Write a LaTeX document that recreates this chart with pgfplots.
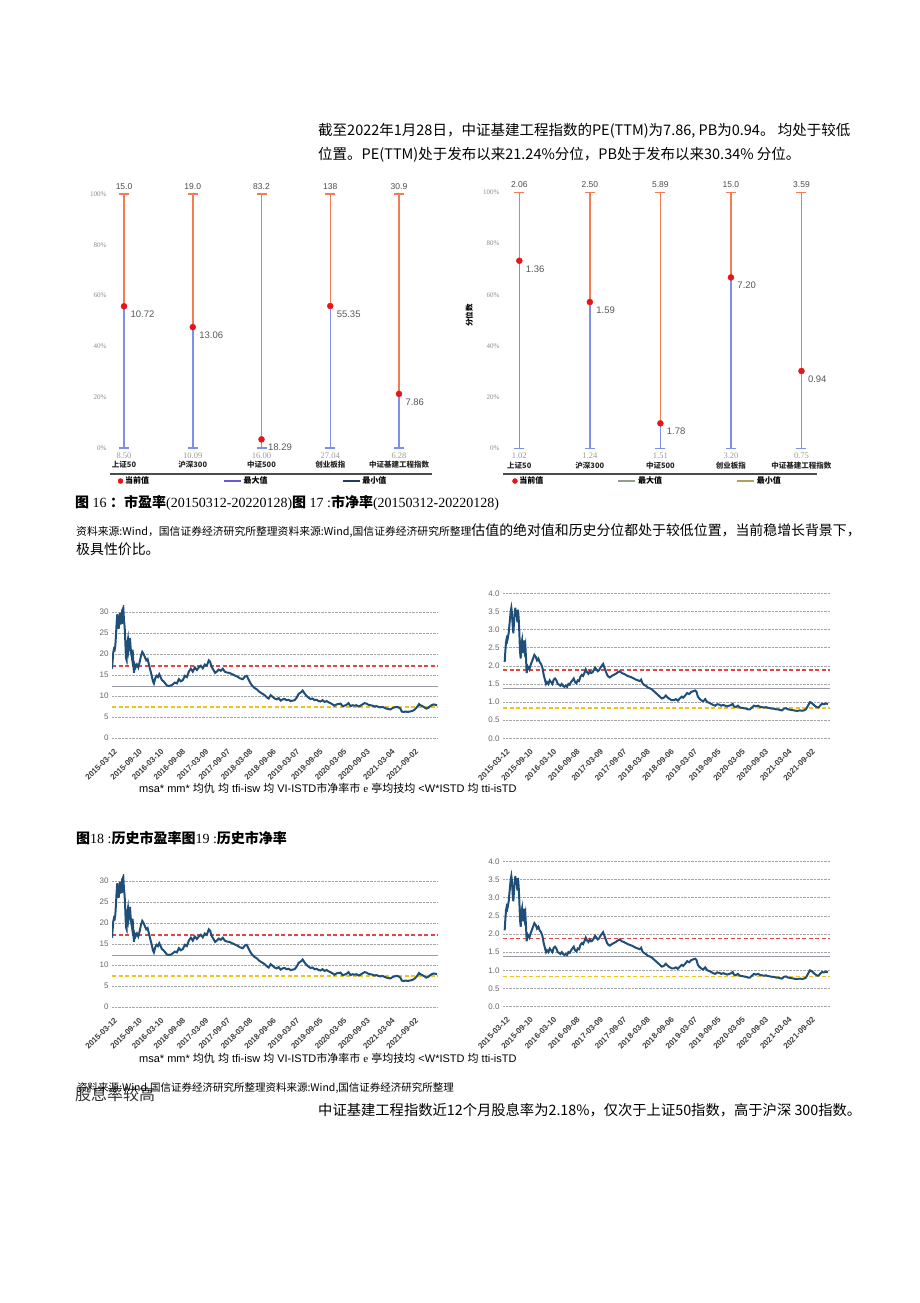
\documentclass[border=0pt]{standalone}
\usepackage{pgfplots}
\pgfplotsset{compat=1.18}
\usepackage{pgfplotstable}
\usetikzlibrary{plotmarks}
\usepackage{fontspec}
\setmainfont{Liberation Sans}
\newfontfamily\cjk{Noto Sans CJK SC}
\newfontfamily\lserif{Liberation Serif}
\newfontfamily\lsans{Liberation Sans}
\definecolor{barblue}{HTML}{7F8FE6}
\definecolor{barorange}{HTML}{F27D52}
\definecolor{dotred}{HTML}{E8141C}
\definecolor{navy}{HTML}{1F4E79}
\definecolor{refred}{HTML}{E04848}
\definecolor{refyel}{HTML}{F2C318}
\definecolor{refgray}{HTML}{9A9AA6}

\pgfplotstableread{
x pct hi lo cur max min
0 55.8 100 0 10.72 15.0 8.50
1 47.6 100 0 13.06 19.0 10.09
2 3.4 100 0 18.29 83.2 16.00
3 55.9 100 0 55.35 138 27.04
4 21.3 100 0 7.86 30.9 6.28
}\petab

\pgfplotstableread{
x pct hi lo cur max min
0 73.3 100 0 1.36 2.06 1.02
1 57.2 100 0 1.59 2.50 1.24
2 9.9 100 0 1.78 5.89 1.51
3 66.8 100 0 7.20 15.0 3.20
4 30.3 100 0 0.94 3.59 0.75
}\pbtab

\pgfplotstableread{
x y
95 16.5
97 18.5
99 20.5
101 21.2
103 21.0
105 22.0
107 24.5
109 27.5
111 29.5
113 28.0
115 26.0
117 27.5
119 29.8
121 27.0
123 28.5
125 27.2
127 30.5
129 31.0
131 28.0
133 26.5
135 23.0
137 19.0
139 18.5
141 22.5
143 23.5
145 21.0
147 22.0
149 23.8
151 21.5
153 20.0
155 19.0
157 21.0
159 18.0
161 15.5
163 17.5
166 16.8
170 17.5
174 16.8
178 18.0
182 19.5
186 20.5
190 20.0
194 19.2
198 18.5
202 18.8
206 17.5
210 16.2
214 15.0
218 13.5
221 13.0
225 14.2
229 14.8
233 14.5
237 15.2
241 14.5
245 13.8
250 13.5
255 13.0
260 12.5
266 12.4
272 12.5
278 12.8
284 13.2
290 13.0
296 14.0
302 13.5
308 13.8
314 14.8
320 14.5
326 15.8
332 16.5
338 15.8
344 16.8
350 16.2
356 16.8
362 17.2
368 16.6
374 17.5
380 17.2
386 18.5
390 18.2
394 17.0
400 16.2
405 15.5
410 15.8
416 16.3
422 16.0
428 16.5
434 15.8
440 15.6
448 15.5
456 15.2
464 14.9
472 14.6
480 14.2
488 14.0
494 14.6
500 14.8
505 14.0
510 13.2
516 12.5
522 12.0
530 11.6
538 11.0
546 10.6
554 10.2
560 9.7
566 9.4
572 10.2
578 9.8
584 9.4
590 9.2
596 9.5
602 8.9
608 9.2
614 9.3
620 9.0
626 9.1
632 8.8
638 8.9
644 9.0
650 9.6
656 10.5
662 10.8
668 11.3
674 10.6
680 10.0
686 9.6
692 9.3
698 9.4
704 9.0
710 9.1
716 8.8
722 8.7
728 9.0
734 8.6
740 8.8
746 8.5
752 8.3
758 8.0
764 7.7
770 8.0
776 8.1
782 8.2
788 7.6
794 7.7
800 7.9
806 8.3
812 7.6
818 7.8
824 7.7
830 7.8
836 7.5
842 7.7
848 8.0
854 8.3
860 8.2
866 7.9
872 7.8
878 7.7
884 7.5
890 7.6
896 7.4
902 7.3
908 7.4
914 7.2
920 7.0
926 6.9
932 6.8
938 7.1
944 7.3
950 7.4
956 7.3
962 7.0
966 6.3
972 6.2
978 6.3
984 6.2
990 6.3
996 6.4
1002 6.6
1008 7.0
1014 7.6
1018 8.1
1022 7.8
1028 7.6
1034 7.3
1040 7.0
1046 7.2
1050 7.5
1056 7.8
1062 8.0
1068 7.9
1072 7.8
}\pedata

\pgfplotstableread{
x y
135 2.1
137 2.4
139 2.65
141 2.75
143 2.7
145 2.8
147 2.9
149 3.1
151 3.3
153 3.5
155 3.6
157 3.45
159 3.1
161 2.9
163 3.2
165 3.4
167 3.6
169 3.35
171 3.5
173 3.2
175 3.55
177 3.3
179 2.9
181 2.4
183 2.2
185 2.6
187 2.7
189 2.35
191 2.5
193 2.7
195 2.45
197 2.55
199 2.2
201 1.8
203 2.0
206 1.95
209 1.9
212 2.0
216 2.1
220 2.2
224 2.3
228 2.25
232 2.15
236 2.2
240 2.1
244 2.05
248 1.95
252 1.75
256 1.6
259 1.5
262 1.55
266 1.5
270 1.6
274 1.55
278 1.5
282 1.62
286 1.65
290 1.6
294 1.5
298 1.48
302 1.45
306 1.5
310 1.45
314 1.42
318 1.45
322 1.42
326 1.5
330 1.48
334 1.55
338 1.6
342 1.65
346 1.55
350 1.52
354 1.6
358 1.58
362 1.7
366 1.75
370 1.72
374 1.8
378 1.9
382 1.82
386 1.78
390 1.85
394 1.8
398 1.82
402 1.88
406 1.95
410 1.9
414 1.85
418 1.88
422 1.95
426 2.0
430 2.05
434 1.95
438 1.85
442 1.75
446 1.7
450 1.68
456 1.72
462 1.75
468 1.78
474 1.82
480 1.85
486 1.8
492 1.78
498 1.75
504 1.72
510 1.7
516 1.68
522 1.65
528 1.62
534 1.6
540 1.58
544 1.62
548 1.52
552 1.48
558 1.45
564 1.4
570 1.38
576 1.35
582 1.3
588 1.25
594 1.2
600 1.15
606 1.1
612 1.12
618 1.18
624 1.12
630 1.08
636 1.05
642 1.05
648 1.08
654 1.04
660 1.1
666 1.15
670 1.12
676 1.18
682 1.25
688 1.22
694 1.28
700 1.3
706 1.32
710 1.28
714 1.15
718 1.1
724 1.05
730 1.02
736 1.08
742 1.0
748 0.98
754 0.95
760 0.92
766 0.9
772 0.94
778 0.93
784 0.9
790 0.92
796 0.9
802 0.88
808 0.9
814 0.92
818 0.95
822 0.88
828 0.86
834 0.9
840 0.85
846 0.84
852 0.83
858 0.82
864 0.8
870 0.8
876 0.85
882 0.9
888 0.88
894 0.9
900 0.87
906 0.86
912 0.85
918 0.86
924 0.84
930 0.83
936 0.82
942 0.82
948 0.8
954 0.8
960 0.78
966 0.77
972 0.82
978 0.83
984 0.8
990 0.79
996 0.78
1002 0.77
1008 0.76
1014 0.76
1020 0.77
1026 0.76
1032 0.77
1038 0.8
1044 0.9
1050 1.0
1054 0.98
1058 0.95
1064 0.9
1070 0.86
1076 0.85
1080 0.9
1086 0.95
1092 0.94
1098 0.96
1104 0.95
}\pbdata

\pgfplotsset{
 dumb/.style={
  scale only axis, ymin=0, ymax=100, clip=false,
  axis line style={draw=none}, major tick length=0pt,
  xtick={0,1,2,3,4},
  xticklabels={上证50,沪深300,中证500,创业板指,中证基建工程指数},
  xticklabel style={font=\cjk\bfseries\fontsize{7.5}{8}\selectfont, text=black!85, yshift=-10pt},
  ytick={0,20,40,60,80,100},
  yticklabels={0\%,20\%,40\%,60\%,80\%,100\%},
  yticklabel style={font=\lserif\fontsize{7}{8}\selectfont, text=black!45},
  legend columns=3,
  legend style={draw=none, fill=none, font=\cjk\bfseries\fontsize{8}{9}\selectfont, anchor=west,
     /tikz/every even column/.append style={column sep=72pt}},
 },
 ts/.style={
  scale only axis, ymin=0, axis line style={draw=none}, major tick length=0pt,
  ymajorgrids, grid style={densely dotted, black!35, line width=0.6pt},
  xticklabel shift=9pt,
  xticklabel style={rotate=45, anchor=north east, font=\lsans\bfseries\fontsize{8}{8.5}\selectfont, text=black!75, inner sep=0.5pt},
  yticklabel style={font=\lsans\fontsize{8}{9}\selectfont, text=black!60},
  /pgf/number format/assume math mode=true,
 },
 pets/.style={ts, width=326pt, height=132.3pt, xmin=95, xmax=1075, ymax=31.5,
  ytick={0,5,...,30},
  xtick={100,175,240,305,375,440,507,578,648,718,790,860,935,1005},
  xticklabels={2015-03-12,2015-09-10,2016-03-10,2016-09-08,2017-03-09,2017-09-07,2018-03-08,2018-09-06,2019-03-07,2019-09-05,2020-03-05,2020-09-03,2021-03-04,2021-09-02},
 },
 pbts/.style={ts, width=327pt, height=145pt, xmin=130, xmax=1110, ymax=4,
  ytick={0,0.5,...,4}, yticklabel style={/pgf/number format/.cd, fixed, fixed zerofill, precision=1},
  xtick={140,210,280,350,420,490,560,632,702,772,845,915,985,1055},
  xticklabels={2015-03-12,2015-09-10,2016-03-10,2016-09-08,2017-03-09,2017-09-07,2018-03-08,2018-09-06,2019-03-07,2019-09-05,2020-03-05,2020-09-03,2021-03-04,2021-09-02},
 },
}

\newcommand{\dumbplots}[1]{%
\addplot[ycomb, barorange, line width=1.5pt, forget plot] table[x=x,y=hi]{#1};
\addplot[ycomb, barblue, line width=1.5pt, forget plot] table[x=x,y=pct]{#1};
\addplot[only marks, mark=-, mark size=5pt, barorange, mark options={line width=1.2pt}, forget plot] table[x=x,y=hi]{#1};
\addplot[only marks, mark=-, mark size=5pt, barblue, mark options={line width=1.2pt}, forget plot] table[x=x,y=lo]{#1};
\addplot[only marks, mark=*, mark size=3pt, dotred, forget plot] table[x=x,y=pct]{#1};
\addplot[draw=none, forget plot, nodes near coords, point meta=explicit symbolic,
  every node near coord/.append style={anchor=south, yshift=1pt, font=\lsans\fontsize{8.5}{9}\selectfont, text=black!70}]
  table[x=x,y=hi,meta=max]{#1};
\addplot[draw=none, forget plot, nodes near coords, point meta=explicit symbolic,
  every node near coord/.append style={anchor=north, yshift=-1pt, font=\lserif\fontsize{8.5}{9}\selectfont, text=black!40}]
  table[x=x,y=lo,meta=min]{#1};
\addplot[draw=none, forget plot, nodes near coords, point meta=explicit symbolic,
  every node near coord/.append style={anchor=west, xshift=3pt, yshift=-8pt, font=\lsans\fontsize{9.5}{10}\selectfont, text=black!65}]
  table[x=x,y=pct,meta=cur]{#1};
}

\newcommand{\tsplots}[5]{%
\addplot[refgray, line width=1pt] coordinates {(#2,#4) (#3,#4)};
\addplot[refred, dash pattern=on 4pt off 2.5pt, line width=1.5pt] coordinates {(#2,#5) (#3,#5)};
\addplot[navy, line width=2pt] table[x=x,y=y]{#1};
}

\begin{document}
\begin{tikzpicture}
\path[use as bounding box, fill=white] (0pt,0pt) rectangle (920pt,-1303pt);

% intro paragraph
\node[anchor=west, inner sep=0pt, font=\cjk\fontsize{14.5}{17}\selectfont] at (318pt,-131pt) {截至2022年1月28日，中证基建工程指数的PE(TTM)为7.86, PB为0.94。 均处于较低};
\node[anchor=west, inner sep=0pt, font=\cjk\fontsize{14.5}{17}\selectfont] at (318pt,-155pt) {位置。PE(TTM)处于发布以来21.24\%分位，PB处于发布以来30.34\% 分位。};

% ===== Fig 16 PE percentile =====
\begin{axis}[dumb, at={(110pt,-448pt)}, anchor=south west, width=322pt, height=254pt,
  xmin=-0.204, xmax=4.48, legend style={at={(0.015,-0.13)}}]
\dumbplots{\petab}
\addlegendimage{only marks, mark=*, mark size=2.5pt, dotred}
\addlegendentry{当前值}
\addlegendimage{line width=1.6pt, color={rgb,255:red,106;green,90;blue,205}}
\addlegendentry{最大值}
\addlegendimage{line width=1.6pt, color={rgb,255:red,40;green,55;blue,100}}
\addlegendentry{最小值}
\draw[line width=1.3pt, black!70] (axis description cs:0,-0.102) -- (axis description cs:1,-0.102);
\end{axis}

% ===== Fig 17 PB percentile =====
\begin{axis}[dumb, at={(503pt,-448.7pt)}, anchor=south west, width=314pt, height=256.4pt,
  xmin=-0.231, xmax=4.22, legend style={at={(0.02,-0.126)}},
  ylabel={分位数}, ylabel style={font=\cjk\bfseries\fontsize{7.5}{8}\selectfont, at={(axis description cs:-0.085,0.52)}}]
\dumbplots{\pbtab}
\addlegendimage{only marks, mark=*, mark size=2.5pt, dotred}
\addlegendentry{当前值}
\addlegendimage{line width=1.6pt, color={rgb,255:red,140;green,160;blue,140}}
\addlegendentry{最大值}
\addlegendimage{line width=1.6pt, color={rgb,255:red,176;green,160;blue,96}}
\addlegendentry{最小值}
\draw[line width=1.3pt, black!70] (axis description cs:0,-0.099) -- (axis description cs:1,-0.099);
\end{axis}

% captions
\node[anchor=west, inner sep=0pt, font=\lserif\fontsize{14}{16}\selectfont] at (75pt,-503pt)
 {{\cjk\bfseries 图} 16 {\cjk\bfseries ：市盈率}(20150312-20220128){\cjk\bfseries 图} 17 :{\cjk\bfseries 市净率}(20150312-20220128)};
\node[anchor=base west, inner sep=0pt, font=\cjk] at (76pt,-535pt)
 {{\fontsize{10.8}{12}\selectfont 资料来源:Wind，国信证券经济研究所整理资料来源:Wind,国信证券经济研究所整理}{\fontsize{13.9}{16}\selectfont 估值的绝对值和历史分位都处于较低位置，当前稳增长背景下，}};
\node[anchor=west, inner sep=0pt, font=\cjk\fontsize{13.9}{16}\selectfont] at (76pt,-549pt) {极具性价比。};

% ===== Fig 18 PE history (top) =====
\begin{axis}[pets, at={(112pt,-738pt)}, anchor=south west]
\addplot[refyel, dash pattern=on 4pt off 2.5pt, line width=1.5pt] coordinates {(95,7.35) (1075,7.35)};
\tsplots{\pedata}{95}{1075}{12.2}{17.1}
\end{axis}
% ===== Fig 19 PB history (top) =====
\begin{axis}[pbts, at={(503pt,-738.3pt)}, anchor=south west]
\addplot[refyel, dash pattern=on 4pt off 2.5pt, line width=1.5pt] coordinates {(130,0.83) (1110,0.83)};
\tsplots{\pbdata}{130}{1110}{1.37}{1.88}
\end{axis}

\node[anchor=west, inner sep=0pt, font=\lsans\fontsize{11}{12}\selectfont] at (139pt,-788pt)
 {msa* mm* {\cjk 均仇}\ {\cjk 均}\ tfi-isw {\cjk 均}\ VI-ISTD{\cjk 市净率市}\ {\lserif e}\ {\cjk 亭均技均}\ <W*ISTD\ {\cjk 均}\ tti-isTD};

\node[anchor=west, inner sep=0pt, font=\lserif\fontsize{14}{16}\selectfont] at (76pt,-838pt)
 {{\cjk\bfseries 图}18 :{\cjk\bfseries 历史市盈率图}19 :{\cjk\bfseries 历史市净率}};

% ===== Fig 18 PE history (bottom) =====
\begin{axis}[pets, at={(112pt,-1007pt)}, anchor=south west]
\addplot[refyel, dash pattern=on 4pt off 2.5pt, line width=1.5pt] coordinates {(95,7.35) (1075,7.35)};
\tsplots{\pedata}{95}{1075}{12.2}{17.1}
\end{axis}
% ===== Fig 19 PB history (bottom) =====
\begin{axis}[pbts, at={(503pt,-1006.5pt)}, anchor=south west]
\addplot[refyel, dash pattern=on 4pt off 2.5pt, line width=1.5pt] coordinates {(130,0.83) (1110,0.83)};
\tsplots{\pbdata}{130}{1110}{1.37}{1.88}
\end{axis}

\node[anchor=west, inner sep=0pt, font=\lsans\fontsize{11}{12}\selectfont] at (139pt,-1058pt)
 {msa* mm* {\cjk 均仇}\ {\cjk 均}\ tfi-isw {\cjk 均}\ VI-ISTD{\cjk 市净率市}\ {\lserif e}\ {\cjk 亭均技均}\ <W*ISTD\ {\cjk 均}\ tti-isTD};

\node[anchor=west, inner sep=0pt, font=\cjk\fontsize{16}{18}\selectfont, text=black!80] at (75pt,-1094pt) {股息率较高};
\node[anchor=west, inner sep=0pt, font=\cjk\fontsize{10.5}{12}\selectfont] at (77pt,-1088pt) {资料来源:Wind,国信证券经济研究所整理资料来源:Wind,国信证券经济研究所整理};
\node[anchor=west, inner sep=0pt, font=\cjk\fontsize{14.3}{17}\selectfont] at (318pt,-1110pt) {中证基建工程指数近12个月股息率为2.18\%，仅次于上证50指数，高于沪深 300指数。};
\end{tikzpicture}
\end{document}
